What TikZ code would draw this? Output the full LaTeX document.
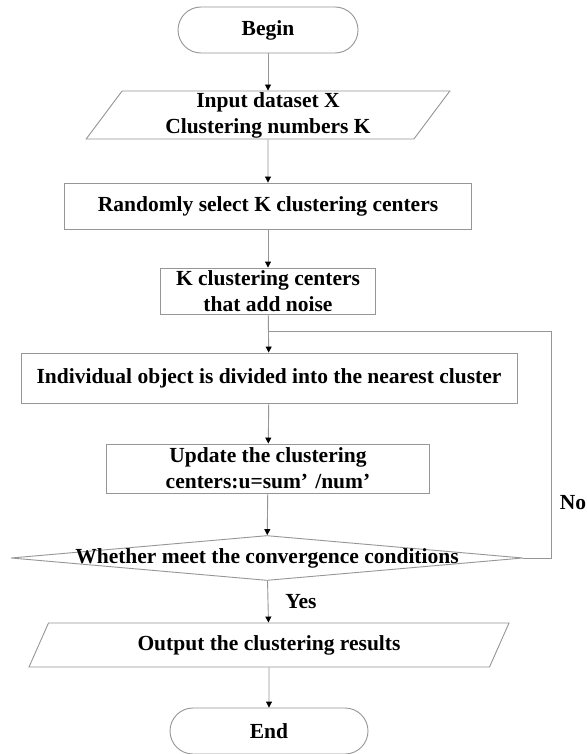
\documentclass[tikz,border=0pt]{standalone}
\usepackage{fontspec}
\setmainfont{Liberation Serif}
\usetikzlibrary{arrows.meta,shapes.geometric,positioning}
\definecolor{linegray}{RGB}{150,150,150}
\tikzset{
  base/.style={draw=linegray, line width=0.9pt, inner sep=0pt, align=center,
    font=\fontsize{21.5}{26}\selectfont\bfseries},
  terminal/.style={base, rectangle, rounded corners=23pt, minimum height=46pt},
  procbox/.style={base, rectangle},
  iobox/.style={base, trapezium, trapezium stretches=true},
  decbox/.style={base, diamond, minimum width=512pt, minimum height=45pt},
  flow/.style={draw=linegray, line width=0.9pt, -{Triangle[length=6pt,width=6pt,color=black]}},
  plain/.style={draw=linegray, line width=0.9pt},
  lbl/.style={font=\fontsize{21.5}{26}\selectfont\bfseries, inner sep=0pt}
}
\begin{document}
\begin{tikzpicture}[x=1pt,y=-1pt]
\useasboundingbox[fill=white] (0,0) rectangle (586,754);
\node[terminal, minimum width=180pt] (begin) at (268,30) {Begin};
\node[iobox, minimum width=365pt, minimum height=48pt, trapezium left angle=61, trapezium right angle=119] (input) at (268,115) {Input dataset X\\Clustering numbers K};
\node[procbox, minimum width=407pt, minimum height=46pt] (rand) at (268,206) {Randomly select K clustering centers};
\node[procbox, minimum width=215pt, minimum height=46pt] (noise) at (268,291) {K clustering centers\\that add noise};
\node[procbox, minimum width=496pt, minimum height=50pt] (ind) at (269,378) {Individual object is divided into the nearest cluster};
\node[procbox, minimum width=323pt, minimum height=49pt] (upd) at (268,468.5) {Update the clustering\\centers:u=sum\char"2019\,\,/num\char"2019};
\node[decbox, label={[lbl]center:Whether meet the convergence conditions}] (dec) at (267,558) {};
\node[iobox, minimum width=482pt, minimum height=44pt, trapezium left angle=59.4, trapezium right angle=120.6] (out) at (269,645) {Output the clustering results};
\node[terminal, minimum width=198pt] (end) at (269,731) {End};
\coordinate (jn) at (268,331);
\coordinate (rc) at (551,331);
\node[lbl] (no) at (573,503) {No};
\node[lbl] (yes) at (301,602) {Yes};
\draw[flow] (begin) -- (input);
\draw[flow] (input) -- (rand);
\draw[flow] (rand) -- (noise);
\draw[flow] (noise) -- (ind);
\draw[flow] (ind) -- (upd);
\draw[flow] (upd) -- (dec);
\draw[plain] (dec.east) -| (rc) -- (jn);
\draw[flow] (dec) -- (out);
\draw[flow] (out) -- (end);
\end{tikzpicture}
\end{document}
